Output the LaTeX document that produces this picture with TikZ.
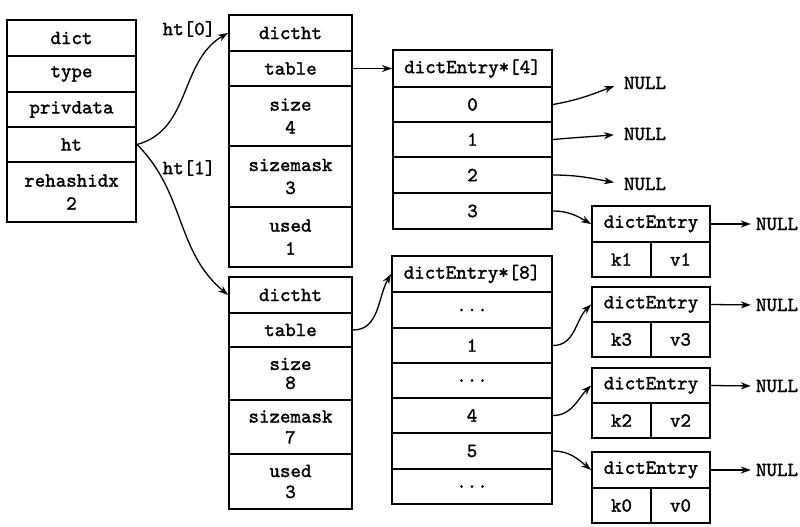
\documentclass[tikz,border=0pt]{standalone}
\usepackage{fontspec}
\newfontfamily\courb{lmmono10-regular}[Extension=.otf, FakeBold=1.6]
\usetikzlibrary{arrows.meta}
\newcommand\cellnode[6]{\node[cell,minimum width=#4pt,minimum height=#5pt] (#1) at ({#2+#4/2},{#3+#5/2}) {#6};}
\begin{document}
\begin{tikzpicture}[x=1pt,y=-1pt,
  txt/.style={font=\fontsize{20}{23}\selectfont\courb},
  cell/.style={txt, draw, line width=2pt, inner sep=0pt, align=center},
  lbl/.style={txt, inner sep=1pt},
  arr/.style={-{Stealth[length=10pt,width=7pt]}, line width=1.3pt},
]
\useasboundingbox[fill=white] (0,0) rectangle (800,527);
% dict
\cellnode{dict}{7}{20}{129}{36}{dict}
\cellnode{type}{7}{56}{129}{36}{type}
\cellnode{priv}{7}{92}{129}{35}{privdata}
\cellnode{ht}{7}{127}{129}{35}{ht}
\cellnode{rehash}{7}{162}{129}{60}{rehashidx\\2}
% dictht 0
\cellnode{hA}{229}{15}{123}{36}{dictht}
\cellnode{tA}{229}{51}{123}{35}{table}
\cellnode{sA}{229}{86}{123}{60}{size\\4}
\cellnode{mA}{229}{146}{123}{61}{sizemask\\3}
\cellnode{uA}{229}{207}{123}{60}{used\\1}
% dictht 1
\cellnode{hB}{229}{277}{123}{36}{dictht}
\cellnode{tB}{229}{313}{123}{34}{table}
\cellnode{sB}{229}{347}{123}{53}{size\\[-4pt]8}
\cellnode{mB}{229}{400}{123}{54}{sizemask\\[-2pt]7}
\cellnode{uB}{229}{454}{123}{55}{used\\[-2pt]3}
% table 4
\cellnode{aH}{393}{50}{159}{37}{dictEntry*[4]}
\cellnode{a0}{393}{87}{159}{35}{0}
\cellnode{a1}{393}{122}{159}{35}{1}
\cellnode{a2}{393}{157}{159}{36}{2}
\cellnode{a3}{393}{193}{159}{36}{3}
% table 8
\cellnode{bH}{392}{256}{160}{36}{dictEntry*[8]}
\cellnode{b0}{392}{292}{160}{36}{...}
\cellnode{b1}{392}{328}{160}{35}{1}
\cellnode{b2}{392}{363}{160}{35}{...}
\cellnode{b4}{392}{398}{160}{35}{4}
\cellnode{b5}{392}{433}{160}{36}{5}
\cellnode{b6}{392}{469}{160}{35}{...}
% entries
\cellnode{e1}{592}{206}{118}{36}{dictEntry}
\cellnode{k1}{592}{242}{59}{35}{k1}
\cellnode{v1}{651}{242}{59}{35}{v1}
\cellnode{e3}{592}{287}{118}{35}{dictEntry}
\cellnode{k3}{592}{322}{59}{35}{k3}
\cellnode{v3}{651}{322}{59}{35}{v3}
\cellnode{e2}{592}{368}{118}{35}{dictEntry}
\cellnode{k2}{592}{403}{59}{35}{k2}
\cellnode{v2}{651}{403}{59}{35}{v2}
\cellnode{e0}{592}{452}{118}{36}{dictEntry}
\cellnode{k0}{592}{488}{59}{35}{k0}
\cellnode{v0}{651}{488}{59}{35}{v0}
% labels
\node[lbl] (l0) at (189,29) {ht[0]};
\node[lbl] (l1) at (189,168) {ht[1]};
\node[lbl] (n0) at (645,83) {NULL};
\node[lbl] (n1) at (645,134) {NULL};
\node[lbl] (n2) at (645,184) {NULL};
\node[lbl] (n3) at (777,224) {NULL};
\node[lbl] (n4) at (777,305) {NULL};
\node[lbl] (n5) at (777,386) {NULL};
\node[lbl] (n6) at (777,470) {NULL};
% arrows
\draw[arr] (ht.east) to[out=15,in=210] (hA.west);
\draw[arr] (ht.east) to[out=-45,in=140] (hB.west);
\draw[arr] (tA.east) -- (aH.west);
\draw[arr] (tB.east) to[out=0,in=240] (bH.west);
\draw[arr,shorten >=9pt] (a0.east) to[out=10,in=200] (n0.west);
\draw[arr,shorten >=9pt] (a1.east) to[out=5,in=185] (n1.west);
\draw[arr,shorten >=9pt] (a2.east) to[out=0,in=170] (n2.west);
\draw[arr] (a3.east) to[out=0,in=150] (e1.west);
\draw[arr,shorten >=4pt] (e1.east) -- (n3.west);
\draw[arr] (b1.east) to[out=0,in=225] (e3.west);
\draw[arr] (b4.east) to[out=0,in=225] (e2.west);
\draw[arr] (b5.east) to[out=0,in=140] (e0.west);
\draw[arr,shorten >=4pt] (e3.east) -- (n4.west);
\draw[arr,shorten >=4pt] (e2.east) -- (n5.west);
\draw[arr,shorten >=4pt] (e0.east) -- (n6.west);
\end{tikzpicture}
\end{document}
